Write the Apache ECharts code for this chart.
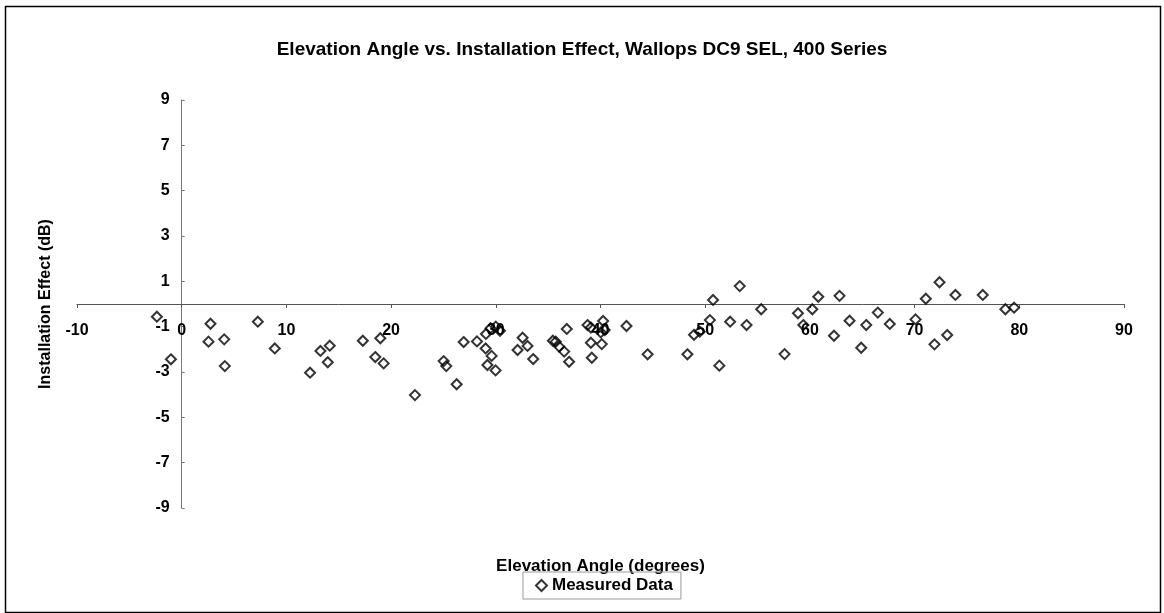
<!DOCTYPE html>
<html>
<head>
<meta charset="utf-8">
<script src="https://cdn.jsdelivr.net/npm/echarts@6/dist/echarts.min.js"></script>
<style>
html,body{margin:0;padding:0;background:#fff;}
#chart{width:1164px;height:613px;}
</style>
</head>
<body>
<div id="chart"></div>
<script>
// Elevation angle (degrees)
var elevation = [
 -2.37,-1.03,2.75,2.56,4.06,4.12,7.27,8.89,12.26,13.25,14.14,13.95,17.3,18.97,18.49,19.29,
 22.28,25.02,25.27,26.26,26.93,28.2,29.06,29.5,30.0,30.4,29.03,29.6,29.2,29.98,
 32.08,32.56,33.03,33.57,35.45,35.73,36.05,36.53,36.78,37.0,
 38.76,39.08,40.25,40.03,40.4,39.08,40.12,39.17,42.48,44.5,
 48.3,48.93,49.48,50.45,50.75,51.35,52.38,53.3,53.95,55.35,57.58,58.86,59.37,
 60.23,60.8,62.3,62.83,63.79,64.9,65.38,66.49,67.63,
 70.09,71.07,71.9,72.38,73.11,73.9,76.51,78.67,79.5
];
// Installation effect (dB)
var effect = [
 -0.56,-2.44,-0.87,-1.66,-1.56,-2.74,-0.78,-1.96,-3.03,-2.07,-1.84,-2.57,-1.62,-1.51,-2.34,-2.62,
 -4.02,-2.52,-2.74,-3.54,-1.68,-1.65,-1.32,-1.07,-1.0,-1.18,-1.96,-2.29,-2.69,-2.93,
 -2.03,-1.49,-1.85,-2.43,-1.62,-1.66,-1.88,-2.1,-1.1,-2.55,
 -0.93,-1.04,-0.75,-1.25,-1.15,-1.71,-1.77,-2.37,-0.97,-2.22,
 -2.22,-1.36,-1.22,-0.71,0.18,-2.72,-0.78,0.79,-0.93,-0.23,-2.21,-0.41,-0.93,
 -0.23,0.32,-1.4,0.36,-0.74,-1.93,-0.93,-0.38,-0.88,
 -0.68,0.23,-1.78,0.96,-1.37,0.4,0.4,-0.23,-0.16
];
var yTicks = [-9,-7,-5,-3,-1,1,3,5,7,9];
var xMin = -10, xMax = 90, xStep = 10;
var yMin = -9, yMax = 9;

var points = elevation.map(function(x,i){ return [x, effect[i]]; });
var FONT = '"Liberation Sans", Arial, sans-serif';

var chart = echarts.init(document.getElementById('chart'), null, {renderer:'canvas'});
chart.setOption({
  animation:false,
  backgroundColor:'#fff',
  textStyle:{fontFamily:FONT},
  graphic:[{
    type:'rect', left:3, top:4, silent:true,
    shape:{width:1155, height:606},
    style:{fill:'none', stroke:'#000', lineWidth:1.5}
  }],
  title:{
    text:'Elevation Angle vs. Installation Effect, Wallops DC9 SEL, 400 Series',
    left:'center', top:35,
    textStyle:{fontFamily:FONT, fontSize:19, fontWeight:'bold', color:'#000'}
  },
  legend:{
    data:['Measured Data'],
    left:523, top:572,
    itemWidth:11, itemHeight:11, itemGap:4,
    borderColor:'#999', borderWidth:1, padding:[5,8,5,12],
    textStyle:{fontFamily:FONT, fontSize:17, fontWeight:'bold', color:'#000'}
  },
  grid:{left:77, right:40, top:100, bottom:105, containLabel:false, outerBoundsMode:'none'},
  xAxis:{
    type:'value', min:xMin, max:xMax, interval:xStep,
    position:'bottom', offset:-204,
    name:'Elevation Angle (degrees)', nameLocation:'middle', nameGap:254,
    nameTextStyle:{fontFamily:FONT, fontSize:17, fontWeight:'bold', color:'#000'},
    axisLine:{onZero:false, lineStyle:{color:'#555', width:1}},
    axisTick:{show:true, length:4, lineStyle:{color:'#555'}},
    axisLabel:{margin:19, fontFamily:FONT, fontSize:16, fontWeight:'bold', color:'#000'},
    splitLine:{show:false}
  },
  yAxis:{
    type:'value', min:yMin, max:yMax,
    position:'left', offset:-104.7,
    name:'Installation Effect (dB)', nameLocation:'middle', nameGap:128,
    nameTextStyle:{fontFamily:FONT, fontSize:16, fontWeight:'bold', color:'#000'},
    axisLine:{show:true, onZero:false, lineStyle:{color:'#777', width:1}},
    axisTick:{show:true, length:3, inside:true, customValues:yTicks, lineStyle:{color:'#777'}},
    axisLabel:{margin:12, customValues:yTicks, fontFamily:FONT, fontSize:16, fontWeight:'bold', color:'#000'},
    splitLine:{show:false}
  },
  series:[{
    name:'Measured Data',
    type:'scatter',
    symbol:'diamond',
    symbolSize:10,
    itemStyle:{color:'rgba(255,255,255,0)', borderColor:'#000', borderWidth:2},
    data:points
  }]
});
</script>
</body>
</html>
